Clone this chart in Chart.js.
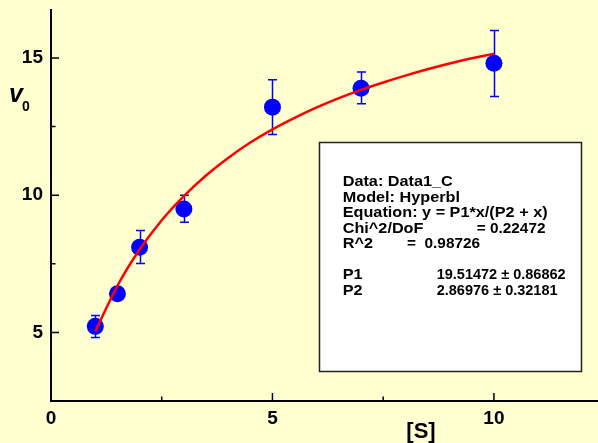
<!DOCTYPE html>
<html><head><meta charset="utf-8">
<script src="https://cdn.jsdelivr.net/npm/chart.js@4/dist/chart.umd.min.js"></script>
<style>html,body{margin:0;padding:0;background:#ffffd0;overflow:hidden}#wrap{width:598px;height:443px;position:relative}</style>
</head><body><div id="wrap"><canvas id="c" width="598" height="443"></canvas></div>
<script>
// ---- data ----
const substrate = [1, 1.5, 2, 3, 5, 7, 10];
const velocity  = [5.22, 6.41, 8.10, 9.50, 13.21, 13.90, 14.81];
const errPlus   = [0.40, 0.20, 0.61, 0.50, 1.00, 0.59, 1.19];
const errMinus  = [0.41, 0.20, 0.59, 0.49, 1.00, 0.57, 1.21];
const fitX = [1,1.5,2,2.5,3,3.5,4,4.5,5,5.5,6,6.5,7,7.5,8,8.5,9,9.5,10];
const fitY = [5.04,6.70,8.02,9.09,9.97,10.72,11.36,11.92,12.40,12.82,13.20,13.54,13.84,14.11,14.36,14.59,14.80,14.99,15.16];
const xTicks = [0, 5, 10];
const yTicks = [5, 10, 15];
const xMinor = [2.5, 7.5];
const yMinor = [7.5, 12.5];
const xTitle = '[S]';
const yTitle = 'v';
const yTitleSub = '0';
const boxLines = [
  ['Data: Data1_C'],
  ['Model: Hyperbl'],
  ['Equation: y = P1*x/(P2 + x)'],
  ['Chi^2/DoF', '= 0.22472'],
  ['R^2', '=  0.98726'],
  [],
  ['P1', '19.51472 ± 0.86862'],
  ['P2', '2.86976 ± 0.32181']
];

const FONT = '"Liberation Sans", Arial, Helvetica, sans-serif';

const decor = {
  id: 'decor',
  beforeDatasetsDraw(chart) {
    const {ctx, scales: {x, y}} = chart;
    ctx.save();
    ctx.strokeStyle = '#0000ff';
    ctx.lineWidth = 1.5;
    substrate.forEach((sx, i) => {
      const px = Math.round(x.getPixelForValue(sx)) + 0.5;
      const top = y.getPixelForValue(velocity[i] + errPlus[i]);
      const bot = y.getPixelForValue(velocity[i] - errMinus[i]);
      ctx.beginPath();
      ctx.moveTo(px, top); ctx.lineTo(px, bot);
      ctx.moveTo(px - 4.5, top); ctx.lineTo(px + 4.5, top);
      ctx.moveTo(px - 4.5, bot); ctx.lineTo(px + 4.5, bot);
      ctx.stroke();
    });
    ctx.restore();
  },
  afterDraw(chart) {
    const {ctx, scales: {x, y}, chartArea: ca} = chart;
    ctx.save();
    // inward tick marks
    ctx.strokeStyle = '#000';
    ctx.lineWidth = 1.5;
    ctx.beginPath();
    xTicks.forEach(v => { const p = x.getPixelForValue(v); if (v !== 0) { ctx.moveTo(p, ca.bottom); ctx.lineTo(p, ca.bottom - 8); } });
    xMinor.forEach(v => { const p = x.getPixelForValue(v); ctx.moveTo(p, ca.bottom); ctx.lineTo(p, ca.bottom - 4.5); });
    yTicks.forEach(v => { const p = y.getPixelForValue(v); ctx.moveTo(ca.left, p); ctx.lineTo(ca.left + 8, p); });
    yMinor.forEach(v => { const p = y.getPixelForValue(v); ctx.moveTo(ca.left, p); ctx.lineTo(ca.left + 4.5, p); });
    ctx.stroke();

    // axis titles
    ctx.fillStyle = '#000';
    ctx.textBaseline = 'alphabetic';
    ctx.textAlign = 'center';
    ctx.font = 'bold 22px ' + FONT;
    ctx.fillText(xTitle, 421, 438);
    ctx.textAlign = 'left';
    ctx.font = 'italic bold 25px ' + FONT;
    ctx.fillText(yTitle, 9, 102);
    ctx.font = 'bold 14px ' + FONT;
    ctx.fillText(yTitleSub, 22, 111);

    // statistics box
    ctx.fillStyle = '#ffffff';
    ctx.fillRect(319, 142, 263, 230);
    ctx.strokeStyle = '#222';
    ctx.lineWidth = 1.5;
    ctx.strokeRect(319.5, 142.5, 262, 229);
    ctx.fillStyle = '#000';
    ctx.font = 'bold 14.5px ' + FONT;
    const valueX = {3: 476.7, 4: 407, 6: 436.7, 7: 436.7};
    boxLines.forEach((parts, i) => {
      const base = 186 + i * 15.5;
      parts.forEach((t, j) => {
        const px = j === 0 ? 342.7 : valueX[i];
        const sx = j === 0 ? 1.12 : ((i === 3 || i === 4) ? 1.06 : 1.0);
        ctx.save();
        ctx.translate(px, base);
        ctx.scale(sx, 1);
        ctx.fillText(t, 0, 0);
        ctx.restore();
      });
    });
    ctx.restore();
  }
};

function noPad(s) { s.paddingTop = 0; s.paddingBottom = 0; s.paddingLeft = 0; s.paddingRight = 0; }

new Chart(document.getElementById('c'), {
  type: 'scatter',
  data: {
    datasets: [
      {
        type: 'line',
        data: fitX.map((v, i) => ({x: v, y: fitY[i]})),
        borderColor: '#ff0000',
        borderWidth: 2.5,
        pointRadius: 0,
        cubicInterpolationMode: 'monotone',
        fill: false,
        order: 0
      },
      {
        data: substrate.map((v, i) => ({x: v, y: velocity[i]})),
        backgroundColor: '#0000ff',
        borderColor: '#0000ff',
        borderWidth: 0,
        pointRadius: 8.5,
        order: 1
      }
    ]
  },
  options: {
    responsive: false,
    animation: false,
    devicePixelRatio: 1,
    layout: {autoPadding: false, padding: {top: 10, right: 0, left: 0, bottom: 0}},
    plugins: {legend: {display: false}, tooltip: {enabled: false}},
    scales: {
      x: {
        type: 'linear', min: 0, max: 12.35,
        grid: {display: false, drawTicks: false},
        border: {display: true, color: '#000', width: 2},
        afterBuildTicks: s => { s.ticks = xTicks.map(v => ({value: v})); },
        afterFit: s => { s.height = 42; noPad(s); },
        ticks: {font: {family: FONT, size: 19, weight: 'bold'}, color: '#000', padding: 6, maxRotation: 0, autoSkip: false}
      },
      y: {
        type: 'linear', min: 2.5, max: 16.75,
        grid: {display: false, drawTicks: false},
        border: {display: true, color: '#000', width: 2},
        afterBuildTicks: s => { s.ticks = yTicks.map(v => ({value: v})); },
        afterFit: s => { s.width = 51; noPad(s); },
        ticks: {font: {family: FONT, size: 19, weight: 'bold'}, color: '#000', padding: 8, autoSkip: false}
      }
    }
  },
  plugins: [decor]
});
</script>
</body></html>
